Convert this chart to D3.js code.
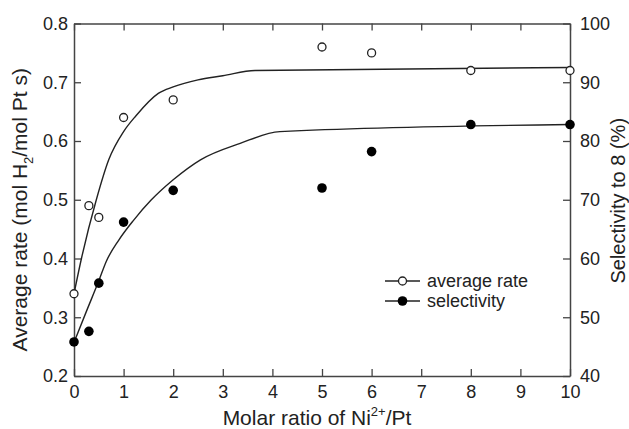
<!DOCTYPE html>
<html>
<head>
<meta charset="utf-8">
<script src="https://cdn.jsdelivr.net/npm/d3@7"></script>
<style>
  body { margin: 0; background: #fff; }
  svg { display: block; font-family: "Liberation Sans", Arial, sans-serif; }
</style>
</head>
<body>
<div id="wrapper"></div>
<script>
// measured data
const ratio = [0, 0.3, 0.5, 1, 2, 5, 6, 8, 10]
const avgRate = [0.34, 0.49, 0.47, 0.64, 0.67, 0.76, 0.75, 0.72, 0.72]
const selectivity = [45.8, 47.6, 55.8, 66.2, 71.6, 72.0, 78.2, 82.8, 82.8]

// fitted curves
const rateFitX = [0, 0.15, 0.45, 0.7, 1.0, 1.25, 1.7, 2.0, 2.5, 3.0, 3.65, 10]
const rateFitY = [0.34, 0.40, 0.50, 0.568, 0.616, 0.643, 0.681, 0.692, 0.704, 0.711, 0.720, 0.725]
const selFitX = [0, 0.25, 0.5, 0.65, 0.9, 1.2, 1.55, 2.0, 2.55, 3.35, 4.15, 10]
const selFitY = [45.7, 51.0, 56.2, 59.5, 63.1, 66.5, 69.9, 73.4, 76.8, 79.6, 81.6, 82.8]

const xTicks = d3.range(0, 11, 1)
const leftTicks = [0.2, 0.3, 0.4, 0.5, 0.6, 0.7, 0.8]
const rightTicks = [40, 50, 60, 70, 80, 90, 100]

const legendLabels = ["average rate", "selectivity"]

let dimensions = {
  width: 629,
  height: 429,
  margin: { top: 23.5, right: 59, bottom: 53, left: 74 },
}
dimensions.boundedWidth = dimensions.width - dimensions.margin.left - dimensions.margin.right
dimensions.boundedHeight = dimensions.height - dimensions.margin.top - dimensions.margin.bottom

const ink = "#222"
const axisColor = "#444"

const svg = d3.select("#wrapper").append("svg")
    .attr("width", dimensions.width)
    .attr("height", dimensions.height)

const bounds = svg.append("g")
    .attr("transform", `translate(${dimensions.margin.left},${dimensions.margin.top})`)

// scales
const xScale = d3.scaleLinear().domain([0, 10]).range([0, dimensions.boundedWidth])
const yLeft = d3.scaleLinear().domain([0.2, 0.8]).range([dimensions.boundedHeight, 0])
const yRight = d3.scaleLinear().domain([40, 100]).range([dimensions.boundedHeight, 0])

// axes (ticks point inward)
const tickLen = 7
function styleAxis(g) {
  g.select(".domain").attr("stroke", axisColor).attr("stroke-width", 1.5)
  g.selectAll(".tick line").attr("stroke", axisColor).attr("stroke-width", 1.3)
  g.selectAll(".tick text").attr("fill", ink).style("font-size", "18px")
}

bounds.append("g")
    .attr("transform", `translate(0,${dimensions.boundedHeight})`)
    .call(d3.axisBottom(xScale).tickValues(xTicks).tickSizeInner(-tickLen).tickSizeOuter(0)
      .tickPadding(9).tickFormat(d3.format("d")))
    .call(styleAxis)

bounds.append("g")
    .call(d3.axisTop(xScale).tickValues(xTicks).tickSizeInner(-tickLen).tickSizeOuter(0).tickFormat(""))
    .call(styleAxis)

bounds.append("g")
    .call(d3.axisLeft(yLeft).tickValues(leftTicks).tickSizeInner(-tickLen).tickSizeOuter(0)
      .tickPadding(6).tickFormat(d3.format(".1f")))
    .call(styleAxis)

bounds.append("g")
    .attr("transform", `translate(${dimensions.boundedWidth},0)`)
    .call(d3.axisRight(yRight).tickValues(rightTicks).tickSizeInner(-tickLen).tickSizeOuter(0)
      .tickPadding(10).tickFormat(d3.format("d")))
    .call(styleAxis)

// fit curves
const rateLine = d3.line()
    .x((d, i) => xScale(rateFitX[i]))
    .y(d => yLeft(d))
    .curve(d3.curveMonotoneX)
const selLine = d3.line()
    .x((d, i) => xScale(selFitX[i]))
    .y(d => yRight(d))
    .curve(d3.curveMonotoneX)

bounds.append("path")
    .attr("d", rateLine(rateFitY))
    .attr("fill", "none").attr("stroke", ink).attr("stroke-width", 1.4)
bounds.append("path")
    .attr("d", selLine(selFitY))
    .attr("fill", "none").attr("stroke", ink).attr("stroke-width", 1.4)

// points
bounds.append("g").selectAll("circle")
  .data(avgRate)
  .join("circle")
    .attr("cx", (d, i) => xScale(ratio[i]))
    .attr("cy", d => yLeft(d))
    .attr("r", 4)
    .attr("fill", "#fff")
    .attr("stroke", ink)
    .attr("stroke-width", 1.3)

bounds.append("g").selectAll("circle")
  .data(selectivity)
  .join("circle")
    .attr("cx", (d, i) => xScale(ratio[i]))
    .attr("cy", d => yRight(d))
    .attr("r", 4.8)
    .attr("fill", "#000")

// legend
const legend = svg.append("g").attr("transform", "translate(385,281)")
const legendItems = legend.selectAll("g")
  .data(legendLabels)
  .join("g")
    .attr("transform", (d, i) => `translate(0,${i * 20})`)
legendItems.append("line")
    .attr("x1", 0).attr("x2", 35)
    .attr("stroke", ink).attr("stroke-width", 1.3)
legendItems.append("circle")
    .attr("cx", 17.5)
    .attr("r", (d, i) => i === 0 ? 4 : 4.8)
    .attr("fill", (d, i) => i === 0 ? "#fff" : "#000")
    .attr("stroke", (d, i) => i === 0 ? ink : "none")
    .attr("stroke-width", 1.3)
legendItems.append("text")
    .attr("x", 42)
    .attr("dy", "0.35em")
    .attr("fill", ink)
    .style("font-size", "18px")
    .text(d => d)

// axis titles
const xTitle = svg.append("text")
    .attr("x", dimensions.margin.left + dimensions.boundedWidth / 2 - 5)
    .attr("y", 425)
    .attr("text-anchor", "middle")
    .attr("fill", ink)
    .style("font-size", "21px")
xTitle.append("tspan").text("Molar ratio of Ni")
xTitle.append("tspan").attr("dy", -9).style("font-size", "13px").text("2+")
xTitle.append("tspan").attr("dy", 9).text("/Pt")

const yTitle = svg.append("text")
    .attr("transform", `translate(27,${dimensions.margin.top + dimensions.boundedHeight / 2 + 10}) rotate(-90)`)
    .attr("text-anchor", "middle")
    .attr("fill", ink)
    .style("font-size", "21px")
yTitle.append("tspan").text("Average rate (mol H")
yTitle.append("tspan").attr("dy", 6).style("font-size", "13px").text("2")
yTitle.append("tspan").attr("dy", -6).text("/mol Pt s)")

svg.append("text")
    .attr("transform", `translate(625,${dimensions.margin.top + dimensions.boundedHeight / 2 + 1}) rotate(-90)`)
    .attr("text-anchor", "middle")
    .attr("fill", ink)
    .style("font-size", "20px")
    .text("Selectivity to 8 (%)")
</script>
</body>
</html>
